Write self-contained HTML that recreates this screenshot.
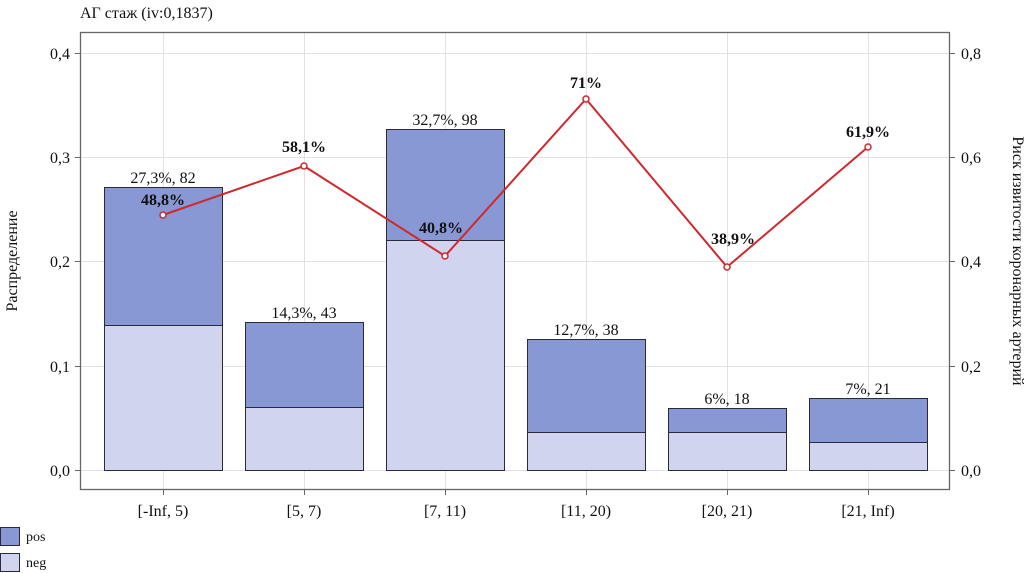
<!DOCTYPE html>
<html><head><meta charset="utf-8"><style>body{margin:0;background:#fff}svg{display:block}text{font-family:"Liberation Serif",serif;fill:#111}</style></head><body>
<svg width="1033" height="573" viewBox="0 0 1033 573">
<text x="80" y="18" font-size="16">АГ стаж (iv:0,1837)</text>
<g stroke="#e2e2e2" stroke-width="1">
<line x1="80" x2="950" y1="53.5" y2="53.5"/><line x1="80" x2="950" y1="157.5" y2="157.5"/><line x1="80" x2="950" y1="261.5" y2="261.5"/><line x1="80" x2="950" y1="366.5" y2="366.5"/><line x1="80" x2="950" y1="470.5" y2="470.5"/>
<line x1="163.5" x2="163.5" y1="32" y2="490"/><line x1="304.5" x2="304.5" y1="32" y2="490"/><line x1="445.5" x2="445.5" y1="32" y2="490"/><line x1="586.5" x2="586.5" y1="32" y2="490"/><line x1="727.5" x2="727.5" y1="32" y2="490"/><line x1="868.5" x2="868.5" y1="32" y2="490"/>
</g>
<g stroke="#2a2a3a" stroke-width="1">
<rect x="104.5" y="187.5" width="118" height="138" fill="#8798d4"/><rect x="104.5" y="325.5" width="118" height="145" fill="#d0d4ee"/>
<rect x="245.5" y="322.5" width="118" height="85" fill="#8798d4"/><rect x="245.5" y="407.5" width="118" height="63" fill="#d0d4ee"/>
<rect x="386.5" y="129.5" width="118" height="111" fill="#8798d4"/><rect x="386.5" y="240.5" width="118" height="230" fill="#d0d4ee"/>
<rect x="527.5" y="339.5" width="118" height="93" fill="#8798d4"/><rect x="527.5" y="432.5" width="118" height="38" fill="#d0d4ee"/>
<rect x="668.5" y="408.5" width="118" height="24" fill="#8798d4"/><rect x="668.5" y="432.5" width="118" height="38" fill="#d0d4ee"/>
<rect x="809.5" y="398.5" width="118" height="44" fill="#8798d4"/><rect x="809.5" y="442.5" width="118" height="28" fill="#d0d4ee"/>
</g>
<rect x="80.5" y="32.5" width="869" height="457" fill="none" stroke="#666" stroke-width="1.3"/>
<g stroke="#666"><line x1="75" x2="80" y1="53.5" y2="53.5"/><line x1="75" x2="80" y1="157.5" y2="157.5"/><line x1="75" x2="80" y1="261.5" y2="261.5"/><line x1="75" x2="80" y1="366.5" y2="366.5"/><line x1="75" x2="80" y1="470.5" y2="470.5"/>
<line x1="950" x2="955" y1="53.5" y2="53.5"/><line x1="950" x2="955" y1="157.5" y2="157.5"/><line x1="950" x2="955" y1="261.5" y2="261.5"/><line x1="950" x2="955" y1="366.5" y2="366.5"/><line x1="950" x2="955" y1="470.5" y2="470.5"/>
<line x1="163.5" x2="163.5" y1="490" y2="495"/><line x1="304.5" x2="304.5" y1="490" y2="495"/><line x1="445.5" x2="445.5" y1="490" y2="495"/><line x1="586.5" x2="586.5" y1="490" y2="495"/><line x1="727.5" x2="727.5" y1="490" y2="495"/><line x1="868.5" x2="868.5" y1="490" y2="495"/></g>
<g font-size="16" text-anchor="end"><text x="70" y="59">0,4</text><text x="70" y="163">0,3</text><text x="70" y="267">0,2</text><text x="70" y="372">0,1</text><text x="70" y="476">0,0</text></g>
<g font-size="16"><text x="961" y="59">0,8</text><text x="961" y="163">0,6</text><text x="961" y="267">0,4</text><text x="961" y="372">0,2</text><text x="961" y="476">0,0</text></g>
<g font-size="16" text-anchor="middle"><text x="163" y="516">[-Inf, 5)</text><text x="304" y="516">[5, 7)</text><text x="445" y="516">[7, 11)</text><text x="586" y="516">[11, 20)</text><text x="727" y="516">[20, 21)</text><text x="868" y="516">[21, Inf)</text>
<text x="163" y="183">27,3%, 82</text><text x="304" y="318">14,3%, 43</text><text x="445" y="125">32,7%, 98</text><text x="586" y="335">12,7%, 38</text><text x="727" y="404">6%, 18</text><text x="868" y="394">7%, 21</text></g>
<text transform="translate(17,261) rotate(-90)" font-size="16" text-anchor="middle">Распределение</text>
<text transform="translate(1013,261) rotate(90)" font-size="16" text-anchor="middle">Риск извитости коронарных артерий</text>
<polyline points="163,215 304,166 445,256 586,99 727,267 868,147" fill="none" stroke="#d0282e" stroke-width="2"/>
<g fill="#fff" stroke="#d0282e" stroke-width="1.5"><circle cx="163" cy="215" r="3"/><circle cx="304" cy="166" r="3"/><circle cx="445" cy="256" r="3"/><circle cx="586" cy="99" r="3"/><circle cx="727" cy="267" r="3"/><circle cx="868" cy="147" r="3"/></g>
<g font-size="16" font-weight="bold" text-anchor="middle"><text x="163" y="205">48,8%</text><text x="304" y="152">58,1%</text><text x="441" y="233">40,8%</text><text x="586" y="88">71%</text><text x="733" y="244">38,9%</text><text x="868" y="137">61,9%</text></g>
<rect x="0.5" y="527.5" width="19" height="18" fill="#8798d4" stroke="#2a2a3a"/><text x="26" y="541" font-size="14">pos</text>
<rect x="0.5" y="553.5" width="19" height="18" fill="#d0d4ee" stroke="#2a2a3a"/><text x="26" y="567" font-size="14">neg</text>
</svg></body></html>
